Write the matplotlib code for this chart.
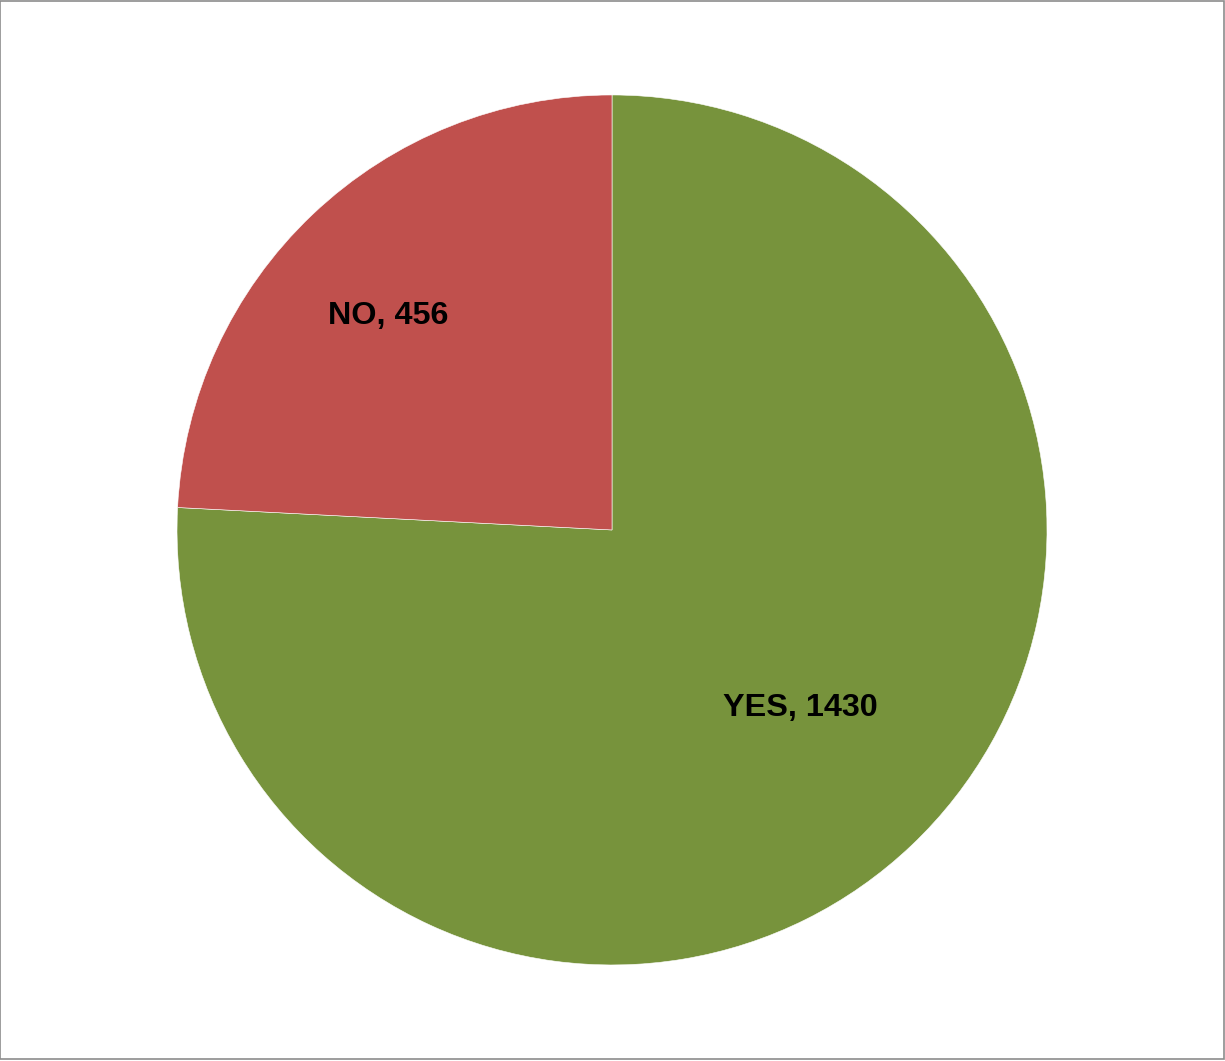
import matplotlib
matplotlib.use("Agg")
import matplotlib.pyplot as plt
import numpy as np
from matplotlib.patches import Rectangle

categories = ["YES", "NO"]
values = [1430, 456]
colors = ["#77933C", "#C0504D"]
label_radii = [0.595, 0.712]
label_angle_shift = [3.1, 2.8]

fig = plt.figure(figsize=(12.25, 10.61), dpi=100)
fig.patch.set_facecolor("white")
ax = fig.add_axes([0.1445, 0.0905, 0.7102, 0.82])
wedges, _ = ax.pie(values, colors=colors, startangle=90, counterclock=False,
                   radius=1.0, wedgeprops=dict(edgecolor="white", linewidth=0.4))
ax.set_xlim(-1, 1)
ax.set_ylim(-1, 1)
ax.set_aspect("equal")
ax.axis("off")

for w, cat, val, r, sh in zip(wedges, categories, values, label_radii, label_angle_shift):
    ang = np.deg2rad((w.theta1 + w.theta2) / 2 + sh)
    ax.text(r * np.cos(ang), r * np.sin(ang), f"{cat}, {val}", ha="center", va="center",
            fontsize=23.3, fontweight="bold", family=["Liberation Sans", "DejaVu Sans"], color="black")

fig.patches.append(Rectangle((0.0004, 0.0015), 0.9988, 0.998, transform=fig.transFigure,
                             fill=False, edgecolor="#8c8c8c", linewidth=1.2))
fig.savefig("out.png", dpi=100, facecolor="white")
